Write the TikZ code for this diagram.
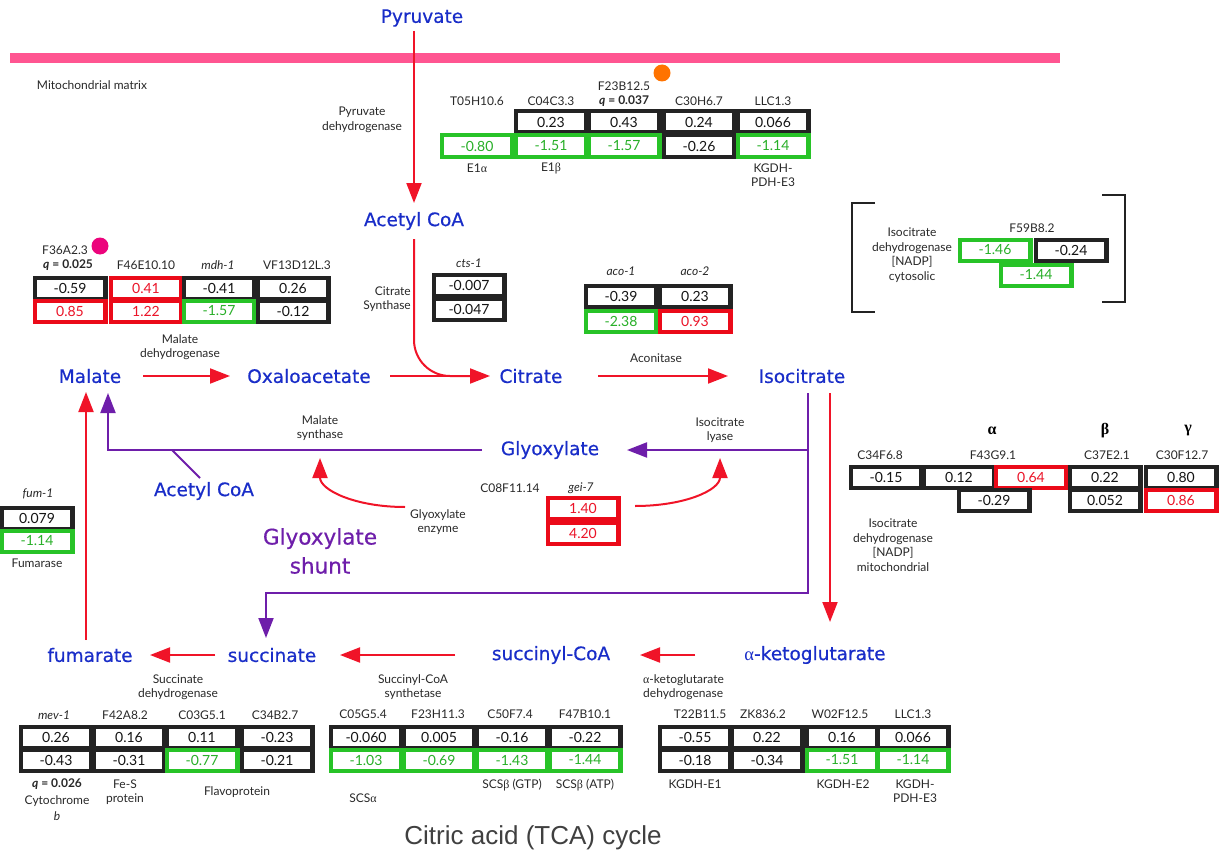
\documentclass[tikz,border=0pt]{standalone}
\usepackage{fontspec}
\setmainfont{Lato}
\newfontfamily\metf[FakeBold=0.6]{DejaVu Sans}
\newfontfamily\titf{Liberation Sans}
\newfontfamily\grkf{Liberation Serif}
\usetikzlibrary{arrows.meta}
\pgfdeclarelayer{bg}
\pgfsetlayers{bg,main}
\definecolor{fblk}{RGB}{35,35,35}
\definecolor{fgrn}{RGB}{40,195,40}
\definecolor{fred}{RGB}{235,10,25}
\definecolor{tfblk}{RGB}{20,20,20}
\definecolor{tfgrn}{RGB}{40,175,40}
\definecolor{tfred}{RGB}{235,20,40}
\definecolor{metblue}{RGB}{25,45,200}
\definecolor{arrred}{RGB}{240,20,40}
\definecolor{arrpur}{RGB}{110,30,170}
\definecolor{pinkband}{RGB}{255,85,145}
\definecolor{lblgray}{RGB}{40,40,40}
\newcommand\gcell[5]{%
 \begin{pgfonlayer}{bg}\fill[#4] (#2-37.5,#3-12.5) rectangle (#2+37.5,#3+12.5);\end{pgfonlayer}
 \node[cellnode,text=t#4] (#1) at (#2,#3) {#5};}
\newcommand\qv[1]{{\bfseries\itshape q} {\bfseries = #1}}
\begin{document}
\begin{tikzpicture}[x=1pt,y=-1pt,
 cellnode/.style={fill=white,minimum width=66pt,minimum height=17pt,inner sep=0pt,font=\fontsize{14}{15}\selectfont},
 lbl/.style={font=\fontsize{12}{14.5}\selectfont,align=center,inner sep=0pt,text=lblgray},
 met/.style={font=\metf\fontsize{18.5}{20}\selectfont,text=metblue,inner sep=0pt},
 ra/.style={draw=arrred,line width=2pt,-{Triangle[length=20pt,width=15pt]},fill=arrred},
 rl/.style={draw=arrred,line width=2pt},
 pa/.style={draw=arrpur,line width=2pt,-{Triangle[length=20pt,width=15pt]}},
 pl/.style={draw=arrpur,line width=2pt},
 brk/.style={draw=fblk,line width=2pt}]
\useasboundingbox (0,0) rectangle (1223,856);
% membrane
\fill[pinkband] (10,53) rectangle (1060,63);
\node[lbl] (mm) at (92,85) {Mitochondrial matrix};
% metabolites
\node[met] (pyr) at (422,18) {Pyruvate};
\node[met] (acoa) at (414,221) {Acetyl CoA};
\node[met] (mal) at (90,376) {Malate};
\node[met] (oaa) at (309,376) {Oxaloacetate};
\node[met] (cit) at (531,376) {Citrate};
\node[met] (iso) at (802,376) {Isocitrate};
\node[met] (glx) at (550,450) {Glyoxylate};
\node[met] (acoa2) at (204,491) {Acetyl CoA};
\node[met] (fum) at (90,655) {fumarate};
\node[met] (suc) at (272,655) {succinate};
\node[met] (scoa) at (551,655) {succinyl-CoA};
\node[met] (akg) at (815,655) {{\grkf α}-ketoglutarate};
\node[font=\metf\fontsize{21.5}{29}\selectfont,text=arrpur,align=center,inner sep=0pt] (shunt) at (320,551) {Glyoxylate\\shunt};
\node[font=\titf\fontsize{26}{28}\selectfont,text=black!75,inner sep=0pt] (title) at (533,838) {Citric acid (TCA) cycle};
% enzyme labels
\node[lbl] (pdh) at (362,120) {Pyruvate\\dehydrogenase};
\node[lbl,align=right,anchor=east] (cs) at (411,299) {Citrate\\Synthase};
\node[lbl] (mdh) at (180,347) {Malate\\dehydrogenase};
\node[lbl] (acn) at (656,358) {Aconitase};
\node[lbl] (msyn) at (320,428) {Malate\\synthase};
\node[lbl] (ilyase) at (720,430) {Isocitrate\\lyase};
\node[lbl] (gez) at (438,522) {Glyoxylate\\enzyme};
\node[lbl] (idhm) at (893,545) {Isocitrate\\dehydrogenase\\{[NADP]}\\mitochondrial};
\node[lbl] (idhc) at (912,255) {Isocitrate\\dehydrogenase\\{[NADP]}\\cytosolic};
\node[lbl] (sdh) at (178,687) {Succinate\\dehydrogenase};
\node[lbl] (scs) at (413,687) {Succinyl-CoA\\synthetase};
\node[lbl,align=left,anchor=west] (kgdh) at (643,687) {{\grkf α}-ketoglutarate\\dehydrogenase};
% ---------- PDH table
\fill[orange!90!red] (662,73) circle (8.5);
\node[lbl] (n1) at (624,86) {F23B12.5};
\node[lbl] (n2) at (477,101) {T05H10.6};
\node[lbl] (n3) at (551,101) {C04C3.3};
\node[lbl] (n4) at (624,101) {\qv{0.037}};
\node[lbl] (n5) at (699,101) {C30H6.7};
\node[lbl] (n6) at (773,101) {LLC1.3};
\gcell{p12}{551}{122}{fblk}{0.23}
\gcell{p13}{624}{122}{fblk}{0.43}
\gcell{p14}{699}{122}{fblk}{0.24}
\gcell{p15}{773}{122}{fblk}{0.066}
\gcell{p21}{477}{146}{fgrn}{-0.80}
\gcell{p22}{551}{146}{fgrn}{-1.51}
\gcell{p23}{624}{146}{fgrn}{-1.57}
\gcell{p24}{699}{146}{fblk}{-0.26}
\gcell{p25}{773}{146}{fgrn}{-1.14}
\node[lbl] (e1a) at (477,168) {E1{\grkf α}};
\node[lbl] (e1b) at (551,168) {E1{\grkf β}};
\node[lbl] (e3) at (773,175) {KGDH-\\PDH-E3};
% ---------- MDH table
\node[lbl] (m0) at (65,250) {F36A2.3};
\fill[magenta!85!red] (100,246) circle (8.5);
\node[lbl] (m1) at (68,265) {\qv{0.025}};
\node[lbl] (m2) at (146,265) {F46E10.10};
\node[lbl] (m3) at (218,265) {\itshape mdh-1};
\node[lbl] (m4) at (297,265) {VF13D12L.3};
\gcell{m11}{70}{288}{fblk}{-0.59}
\gcell{m12}{146}{288}{fred}{0.41}
\gcell{m13}{219}{288}{fblk}{-0.41}
\gcell{m14}{293}{288}{fblk}{0.26}
\gcell{m21}{70}{311}{fred}{0.85}
\gcell{m22}{146}{311}{fred}{1.22}
\gcell{m23}{219}{311}{fgrn}{-1.57}
\gcell{m24}{293}{311}{fblk}{-0.12}
% ---------- CS
\node[lbl] (c0) at (469,263) {\itshape cts-1};
\gcell{c1}{469}{285}{fblk}{-0.007}
\gcell{c2}{469}{309}{fblk}{-0.047}
% ---------- aconitase
\node[lbl] (a0) at (621,271) {\itshape aco-1};
\node[lbl] (a00) at (695,271) {\itshape aco-2};
\gcell{a11}{621}{296}{fblk}{-0.39}
\gcell{a12}{695}{296}{fblk}{0.23}
\gcell{a21}{621}{321}{fgrn}{-2.38}
\gcell{a22}{695}{321}{fred}{0.93}
% ---------- cytosolic IDH
\draw[brk] (875,203) -- (852,203) -- (852,312) -- (875,312);
\draw[brk] (1102,195) -- (1125,195) -- (1125,302) -- (1102,302);
\node[lbl] (y0) at (1032,228) {F59B8.2};
\gcell{y1}{995}{250}{fgrn}{-1.46}
\gcell{y2}{1071}{250}{fblk}{-0.24}
\gcell{y3}{1036}{275}{fgrn}{-1.44}
% ---------- mitochondrial IDH
\node[font=\grkf\bfseries\fontsize{16}{16}\selectfont,inner sep=0pt] (ga) at (992,431) {α};
\node[font=\grkf\bfseries\fontsize{16}{16}\selectfont,inner sep=0pt] (gb) at (1105,431) {β};
\node[font=\grkf\bfseries\fontsize{16}{16}\selectfont,inner sep=0pt] (gg) at (1188,431) {γ};
\node[lbl] (i1) at (880,455) {C34F6.8};
\node[lbl] (i2) at (993,455) {F43G9.1};
\node[lbl] (i3) at (1107,455) {C37E2.1};
\node[lbl] (i4) at (1182,455) {C30F12.7};
\gcell{i11}{886}{477}{fblk}{-0.15}
\gcell{i12}{959}{477}{fblk}{0.12}
\gcell{i13}{1031}{477}{fred}{0.64}
\gcell{i14}{1105}{477}{fblk}{0.22}
\gcell{i15}{1181}{477}{fblk}{0.80}
\gcell{i21}{994}{500}{fblk}{-0.29}
\gcell{i22}{1105}{500}{fblk}{0.052}
\gcell{i23}{1181}{500}{fred}{0.86}
% ---------- glyoxylate enzyme
\node[lbl] (g0) at (510,488) {C08F11.14};
\node[lbl] (g00) at (581,488) {\itshape gei-7};
\gcell{g1}{583}{508}{fred}{1.40}
\gcell{g2}{583}{533}{fred}{4.20}
% ---------- fumarase
\node[lbl] (f0) at (38,494) {\itshape fum-1};
\gcell{f1}{37}{518}{fblk}{0.079}
\gcell{f2}{37}{541}{fgrn}{-1.14}
\node[lbl] (f3) at (37,563) {Fumarase};
% ---------- SDH
\node[lbl] (s1) at (54,715) {\itshape mev-1};
\node[lbl] (s2) at (125,715) {F42A8.2};
\node[lbl] (s3) at (202,715) {C03G5.1};
\node[lbl] (s4) at (275,715) {C34B2.7};
\gcell{s11}{56}{737}{fblk}{0.26}
\gcell{s12}{129}{737}{fblk}{0.16}
\gcell{s13}{202}{737}{fblk}{0.11}
\gcell{s14}{277}{737}{fblk}{-0.23}
\gcell{s21}{56}{760}{fblk}{-0.43}
\gcell{s22}{129}{760}{fblk}{-0.31}
\gcell{s23}{202}{760}{fgrn}{-0.77}
\gcell{s24}{277}{760}{fblk}{-0.21}
\node[lbl,font=\fontsize{12}{16.5}\selectfont] (s5) at (57,800) {\qv{0.026}\\Cytochrome\\\itshape b};
\node[lbl] (s6) at (125,792) {Fe-S\\protein};
\node[lbl] (s7) at (237,792) {Flavoprotein};
% ---------- SCS
\node[lbl] (k1) at (363,714) {C05G5.4};
\node[lbl] (k2) at (438,714) {F23H11.3};
\node[lbl] (k3) at (510,714) {C50F7.4};
\node[lbl] (k4) at (585,714) {F47B10.1};
\gcell{k11}{366}{737}{fblk}{-0.060}
\gcell{k12}{439}{737}{fblk}{0.005}
\gcell{k13}{512}{737}{fblk}{-0.16}
\gcell{k14}{585}{737}{fblk}{-0.22}
\gcell{k21}{366}{760}{fgrn}{-1.03}
\gcell{k22}{439}{760}{fgrn}{-0.69}
\gcell{k23}{512}{760}{fgrn}{-1.43}
\gcell{k24}{585}{760}{fgrn}{-1.44}
\node[lbl] (k5) at (512,785) {SCS{\grkf β} (GTP)};
\node[lbl] (k6) at (585,785) {SCS{\grkf β} (ATP)};
\node[lbl] (k7) at (363,798) {SCS{\grkf α}};
% ---------- KGDH
\node[lbl] (h1) at (700,714) {T22B11.5};
\node[lbl] (h2) at (763,714) {ZK836.2};
\node[lbl] (h3) at (840,714) {W02F12.5};
\node[lbl] (h4) at (913,714) {LLC1.3};
\gcell{h11}{695}{737}{fblk}{-0.55}
\gcell{h12}{767}{737}{fblk}{0.22}
\gcell{h13}{842}{737}{fblk}{0.16}
\gcell{h14}{913}{737}{fblk}{0.066}
\gcell{h21}{695}{760}{fblk}{-0.18}
\gcell{h22}{767}{760}{fblk}{-0.34}
\gcell{h23}{842}{760}{fgrn}{-1.51}
\gcell{h24}{913}{760}{fgrn}{-1.14}
\node[lbl] (h5) at (695,784) {KGDH-E1};
\node[lbl] (h6) at (843,784) {KGDH-E2};
\node[lbl] (h7) at (915,791) {KGDH-\\PDH-E3};
% ---------- arrows
\path (acoa.center |- pyr.center) coordinate (pyrx);
\draw[ra] ([yshift=-13pt]pyrx) -- ([yshift=18pt]acoa.center);
\draw[rl,rounded corners=36pt] ([yshift=-18pt]acoa.center) |- ([xshift=-45pt]cit.center);
\draw[ra] ([xshift=81pt]oaa.center) -- ([xshift=-41pt]cit.center);
\draw[ra] ([xshift=67pt]cit.center) -- ([xshift=-74pt]iso.center);
\draw[ra] ([xshift=53pt]mal.center) -- ([xshift=-79pt]oaa.center);
\draw[ra] ([xshift=28pt,yshift=-17pt]iso.center) -- ([xshift=15pt,yshift=33pt]akg.center);
\coordinate (pj) at (808,593);
\coordinate (pg) at (808,450);
\coordinate (aj) at (172,450);
\draw[pa] ([xshift=6pt,yshift=-17pt]iso.center) -- (pj) -| ([xshift=-6pt,yshift=17pt]suc.center);
\draw[pa] (pg) -- ([xshift=77pt]glx.center);
\draw[pa] ([xshift=-68pt]glx.center) -| ([xshift=18pt,yshift=-17pt]mal.center);
\draw[pl] ([xshift=-4pt,yshift=13pt]acoa2.center) -- (aj);
\draw[ra] ([xshift=-4pt,yshift=15pt]fum.center) -- ([xshift=-4pt,yshift=-16pt]mal.center);
\draw[ra] ([xshift=-57pt]suc.center) -- ([xshift=60pt]fum.center);
\draw[ra] ([xshift=-96pt]scoa.center) -- ([xshift=68pt]suc.center);
\draw[ra] ([xshift=-120pt]akg.center) -- ([xshift=89pt]scoa.center);
\draw[ra,fill=none] ([xshift=-33pt,yshift=15pt]gez.center) .. controls (355,507) and (320,490) .. ([yshift=-30pt]msyn.center);
\draw[ra,fill=none] ([xshift=52pt,yshift=2pt]g1.center) .. controls (685,506) and (720,490) .. ([yshift=-28pt]ilyase.center);
\end{tikzpicture}
\end{document}
